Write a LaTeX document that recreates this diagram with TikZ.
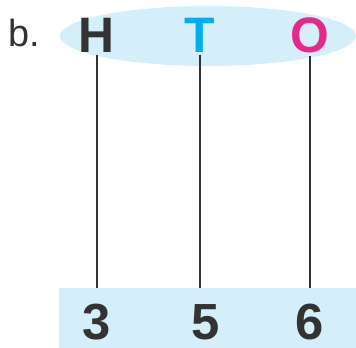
\documentclass[tikz,border=0pt]{standalone}
\usepackage{fontspec}
\setmainfont{Liberation Sans}
\definecolor{fillblue}{HTML}{D4EEFA}
\definecolor{txtdark}{HTML}{333333}
\definecolor{tcyan}{HTML}{00AEEF}
\definecolor{omag}{HTML}{E6288A}
\begin{document}
\begin{tikzpicture}[x=1bp,y=1bp,
  lettr/.style={inner sep=0pt,anchor=base,font=\fontsize{50}{50}\selectfont\bfseries},
  digit/.style={inner sep=0pt,anchor=base,text=txtdark,font=\fontsize{51}{51}\selectfont\bfseries},
  conn/.style={draw=txtdark,line width=2bp}]
\useasboundingbox (0,0) rectangle (356,348);
\fill[fillblue] (208,312) ellipse [x radius=148, y radius=30];
\fill[fillblue] (59,0) rectangle (356,60);
\node[inner sep=0pt,anchor=base west,text=txtdark,font=\fontsize{38}{38}\selectfont] (lbl) at (8,302) {b.};
\node[lettr,text=txtdark] (h) at (96,296) {H};
\node[lettr,text=tcyan] (t) at (200,296) {T};
\node[lettr,text=omag] (o) at (310,296) {O};
\node[digit] (n3) at (97,9) {3};
\node[digit] (n5) at (206,9) {5};
\node[digit] (n6) at (310,9) {6};
\coordinate (bh) at (97,60);
\coordinate (bt) at (200,60);
\coordinate (bo) at (310,60);
\draw[conn] (h.south -| bh) ++(0,-3) -- (bh);
\draw[conn] (t.south -| bt) ++(0,-3) -- (bt);
\draw[conn] (o.south -| bo) ++(0,-3) -- (bo);
\end{tikzpicture}
\end{document}
